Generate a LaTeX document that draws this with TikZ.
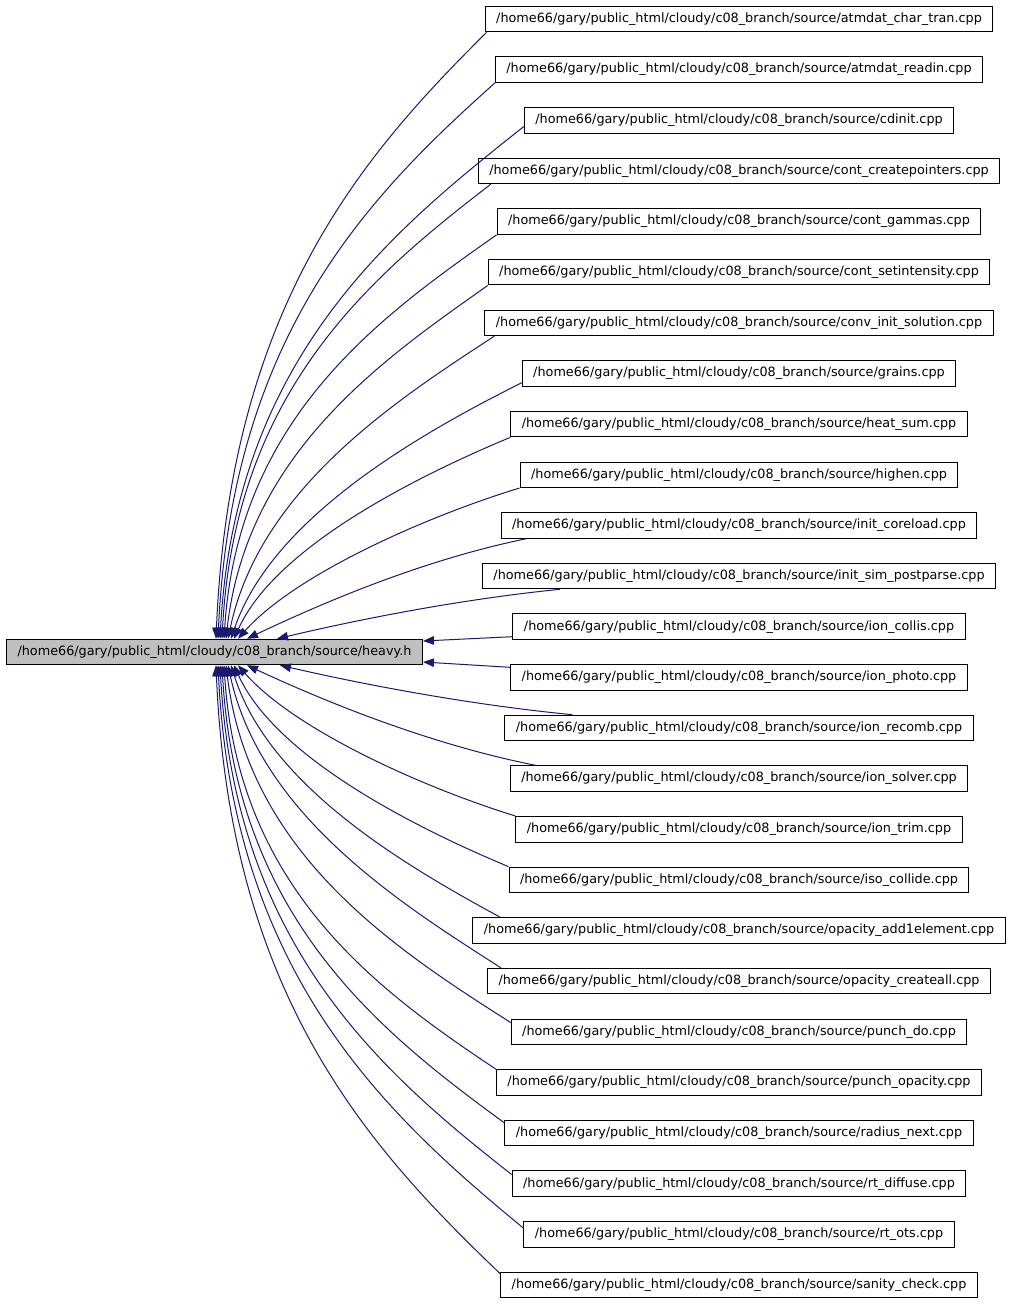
\documentclass[tikz,border=0pt]{standalone}
\usepackage{fontspec}
\setmainfont{DejaVu Sans}
\usetikzlibrary{arrows.meta,calc}
\definecolor{edgeblue}{HTML}{191970}
\definecolor{hfill}{HTML}{BFBFBF}
\tikzset{
  filebox/.style={draw=black, line width=1pt, fill=white, inner xsep=11pt, inner ysep=0pt,
    minimum height=25.5pt, font=\fontsize{12.8}{15}\selectfont},
  mainbox/.style={filebox, fill=hfill},
  dep/.style={draw=edgeblue, line width=1pt, -{Triangle[length=11pt,width=8.5pt]}}
}
\begin{document}
\begin{tikzpicture}[x=1pt,y=-1pt]
\useasboundingbox (0,0) rectangle (1011,1304);
\node[mainbox] (h) at (214.5,652) {/home66/gary/public\_html/cloudy/c08\_branch/source/heavy.h};
\foreach \n [count=\i] in {atmdat\_char\_tran,atmdat\_readin,cdinit,cont\_createpointers,cont\_gammas,cont\_setintensity,conv\_init\_solution,grains,heat\_sum,highen,init\_coreload,init\_sim\_postparse,ion\_collis,ion\_photo,ion\_recomb,ion\_solver,ion\_trim,iso\_collide,opacity\_add1element,opacity\_createall,punch\_do,punch\_opacity,radius\_next,rt\_diffuse,rt\_ots,sanity\_check}
  \node[filebox] (r\i) at (739,{19+50.64*(\i-1)}) {/home66/gary/public\_html/cloudy/c08\_branch/source/\n.cpp};
% upper edges
\foreach \i/\sx/\sy/\ex/\ax/\ay/\bx/\by in {
  1/2/0/1.5/-122/121/14/-334,
  2/0/0/3.5/-124/111/14/-306,
  3/0/-7/5.5/-130/103/15/-282,
  4/13/0/7.5/-118/91/13/-250,
  5/0/0/9.5/-115/81/14/-222,
  6/0/0/11.5/-100/71/21/-188,
  7/10/0/13.5/-93/61/32/-152,
  8/0/-4/16.5/-102/51/41/-121,
  9/0/0/19.5/-96/40/41/-91,
  10/0/0/23.5/-98/30/56/-63,
  11/26/0/32.5/-98/20/84/-40,
  12/78/0/62.5/-99/10/85/-20}
  \draw[dep] ($(r\i.south west)+(\sx,\sy)$) .. controls +(\ax,\ay) and +(\bx,\by) .. ($(h.north)+(\ex,0)$);
% lower edges
\foreach \i/\sx/\sy/\ex/\ax/\ay/\bx/\by in {
  15/68/0/65.5/-102/-10/87/20,
  16/26/0/32.5/-101/-20/86/40,
  17/0/0/23.5/-97/-30/55/63,
  18/0/0/19.5/-96/-40/41/91,
  19/28/0/16.5/-94/-51/38/121,
  20/14/0/13.5/-95/-61/33/152,
  21/0/4/11.5/-113/-72/23/190,
  22/0/0/9.5/-122/-81/14/222,
  23/0/3/7.5/-126/-92/14/252,
  24/0/4/5.5/-130/-102/15/281,
  25/0/7/3.5/-137/-113/15/310,
  26/0/2/1.5/-127/-122/14/335}
  \draw[dep] ($(r\i.north west)+(\sx,\sy)$) .. controls +(\ax,\ay) and +(\bx,\by) .. ($(h.south)+(\ex,0)$);
% straight edges
\draw[dep] ($(r13.west)+(0,10)$) -- ($(h.east)+(0,-11)$);
\draw[dep] ($(r14.west)+(0,-10)$) -- ($(h.east)+(0,10)$);
\end{tikzpicture}
\end{document}
